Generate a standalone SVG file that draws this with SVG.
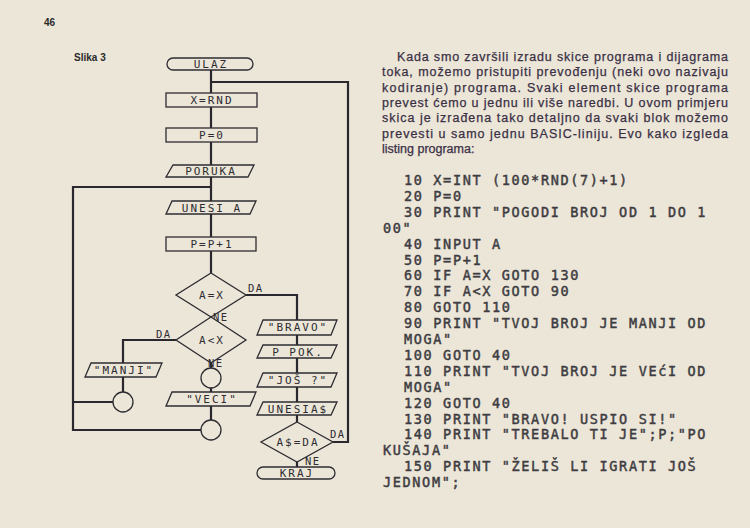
<svg xmlns="http://www.w3.org/2000/svg" width="750" height="528" viewBox="0 0 750 528">
<style>
.wire{fill:none;stroke:#2a282e;stroke-width:2.2}
.box{fill:#ebe6d7;stroke:#2e2c32;stroke-width:1.3}
.lbl{font-family:"DejaVu Sans Mono","Liberation Mono",monospace;font-size:11px;letter-spacing:2px;fill:#2e2c32;text-anchor:middle}
.tag{font-family:"DejaVu Sans Mono","Liberation Mono",monospace;font-size:10.5px;letter-spacing:1.5px;fill:#2e2c32}
.para{font-family:"Liberation Sans","Arial",sans-serif;font-size:12.5px;fill:#3a2f45;stroke:#3a2f45;stroke-width:0.25}
.code{font-family:"DejaVu Sans Mono","Liberation Mono",monospace;font-size:13.5px;letter-spacing:1.65px;fill:#3e3c42;stroke:#3e3c42;stroke-width:0.45}
.hd{font-family:"Liberation Sans","Arial",sans-serif;font-size:10px;font-weight:bold;fill:#2a2a2a}
</style>
<rect width="750" height="528" fill="#ebe6d7"/>
<text class="hd" x="44" y="26">46</text>
<text class="hd" x="74" y="61">Slika 3</text>

<g id="connectors">
<path class="wire" d="M211,70 V273"/>
<path class="wire" d="M211,82 H348 V442 H333"/>
<path class="wire" d="M211,187 H73 V430 H201"/>
<path class="wire" d="M73,402 H113"/>
<path class="wire" d="M246,295 H297 V467"/>
<path class="wire" d="M176,340 H123 V392"/>
<path class="wire" d="M211,363 V420"/>
</g>

<g id="ulaz"><rect class="box" x="167" y="58" width="86" height="12" rx="6"/><text class="lbl" x="211" y="68">ULAZ</text></g>
<g id="xrnd"><rect class="box" x="166" y="93" width="91" height="14"/><text class="lbl" x="212" y="104">X=RND</text></g>
<g id="p0"><rect class="box" x="166" y="128" width="91" height="14"/><text class="lbl" x="212" y="139">P=0</text></g>
<g id="poruka"><polygon class="box" points="173,165 254,165 248,177 166,177"/><text class="lbl" x="211" y="175">PORUKA</text></g>
<g id="unesia"><polygon class="box" points="172,201 256,201 250,214 166,214"/><text class="lbl" x="212" y="211.5">UNESI A</text></g>
<g id="pp1"><rect class="box" x="166" y="237" width="90" height="14"/><text class="lbl" x="212" y="248">P=P+1</text></g>
<g id="ax"><polygon class="box" points="211,273 246,295 211,317 176,295"/><text class="lbl" x="212" y="299">A=X</text>
<text class="tag" x="248" y="292">DA</text><text class="tag" x="213" y="321">NE</text></g>
<g id="altx"><polygon class="box" points="211,317 246,340 211,363 176,340"/><text class="lbl" x="212" y="344">A&lt;X</text>
<text class="tag" x="156" y="338">DA</text><text class="tag" x="208" y="367">NE</text></g>
<g id="manji"><polygon class="box" points="91,363 162,363 156,377 85,377"/><text class="lbl" x="124" y="374">"MANJI"</text></g>
<g id="c1"><circle class="box" cx="123" cy="402" r="10"/></g>
<g id="c2"><circle class="box" cx="211" cy="378" r="10"/></g>
<g id="veci"><polygon class="box" points="172,392 256,392 250,406 166,406"/><text class="lbl" x="212" y="403">"VECI"</text></g>
<g id="c3"><circle class="box" cx="211" cy="430" r="10"/></g>
<g id="bravo"><polygon class="box" points="263,320 337,320 331,335 257,335"/><text class="lbl" x="298" y="331">"BRAVO"</text></g>
<g id="ppok"><polygon class="box" points="263,345 337,345 331,358 257,358"/><text class="lbl" x="298" y="355.5">P POK.</text></g>
<g id="jos"><polygon class="box" points="263,373 337,373 331,387 257,387"/><text class="lbl" x="298" y="384">"JOŠ ?"</text></g>
<g id="unesias"><polygon class="box" points="263,402 337,402 331,415 257,415"/><text class="lbl" x="298" y="412.5">UNESIA$</text></g>
<g id="asda"><polygon class="box" points="297,422 333,442 297,462 261,442"/><text class="lbl" x="298" y="446">A$=DA</text>
<text class="tag" x="330" y="438">DA</text><text class="tag" x="305" y="465">NE</text></g>
<g id="kraj"><rect class="box" x="257" y="467" width="78" height="12" rx="6"/><text class="lbl" x="297" y="477">KRAJ</text></g>

<g id="paragraph">
<text class="para" x="397" y="61" textLength="331" lengthAdjust="spacing">Kada smo završili izradu skice programa i dijagrama</text>
<text class="para" x="382" y="76.3" textLength="346" lengthAdjust="spacing">toka, možemo pristupiti prevođenju (neki ovo nazivaju</text>
<text class="para" x="382" y="91.6" textLength="346" lengthAdjust="spacing">kodiranje) programa. Svaki element skice programa</text>
<text class="para" x="382" y="107" textLength="346" lengthAdjust="spacing">prevest ćemo u jednu ili više naredbi. U ovom primjeru</text>
<text class="para" x="382" y="122.3" textLength="346" lengthAdjust="spacing">skica je izrađena tako detaljno da svaki blok možemo</text>
<text class="para" x="382" y="137.6" textLength="346" lengthAdjust="spacing">prevesti u samo jednu BASIC-liniju. Evo kako izgleda</text>
<text class="para" x="382" y="153">listing programa:</text>
</g>

<g id="listing">
<text class="code" x="404" y="185">10 X=INT (100*RND(7)+1)</text>
<text class="code" x="404" y="200.9">20 P=0</text>
<text class="code" x="404" y="216.8">30 PRINT "POGODI BROJ OD 1 DO 1</text>
<text class="code" x="383" y="232.7">00"</text>
<text class="code" x="404" y="248.6">40 INPUT A</text>
<text class="code" x="404" y="264.5">50 P=P+1</text>
<text class="code" x="404" y="280.4">60 IF A=X GOTO 130</text>
<text class="code" x="404" y="296.3">70 IF A&lt;X GOTO 90</text>
<text class="code" x="404" y="312.2">80 GOTO 110</text>
<text class="code" x="404" y="328.1">90 PRINT "TVOJ BROJ JE MANJI OD</text>
<text class="code" x="404" y="344">MOGA"</text>
<text class="code" x="404" y="359.9">100 GOTO 40</text>
<text class="code" x="404" y="375.8">110 PRINT "TVOJ BROJ JE VEćI OD</text>
<text class="code" x="404" y="391.7">MOGA"</text>
<text class="code" x="404" y="407.6">120 GOTO 40</text>
<text class="code" x="404" y="423.5">130 PRINT "BRAVO! USPIO SI!"</text>
<text class="code" x="404" y="439.4">140 PRINT "TREBALO TI JE";P;"PO</text>
<text class="code" x="383" y="455.3">KUŠAJA"</text>
<text class="code" x="404" y="471.2">150 PRINT "ŽELIŠ LI IGRATI JOŠ</text>
<text class="code" x="383" y="487.1">JEDNOM";</text>
</g>
</svg>
